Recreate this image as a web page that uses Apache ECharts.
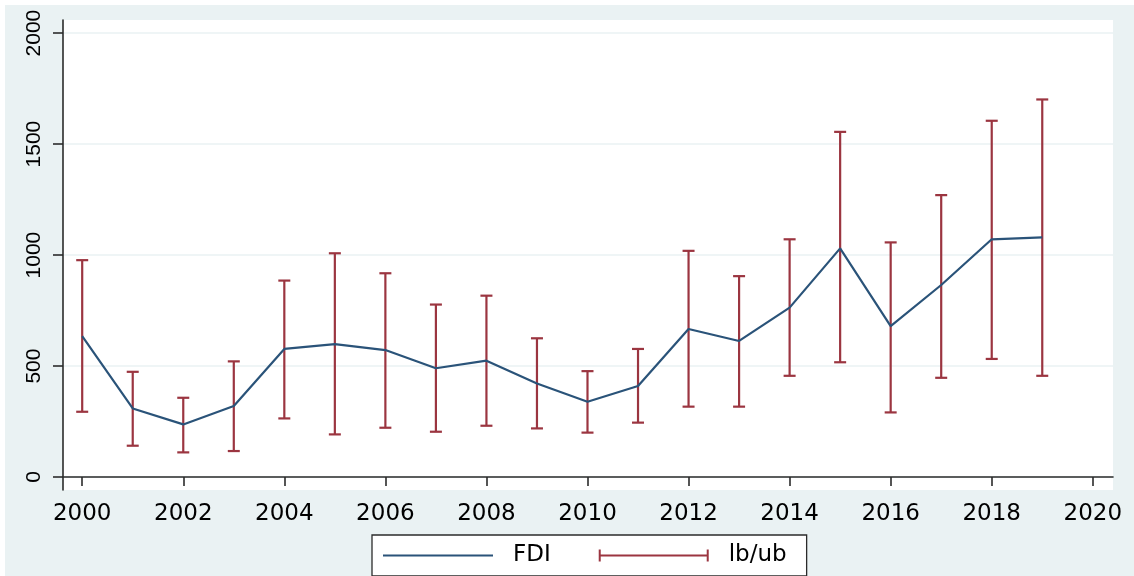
<!DOCTYPE html>
<html>
<head>
<meta charset="utf-8">
<script src="https://cdn.jsdelivr.net/npm/echarts@6/dist/echarts.min.js"></script>
<style>
html,body{margin:0;padding:0;background:#fff;}
#c{width:1134px;height:576px;}
</style>
</head>
<body>
<div id="c"></div>
<script>
const years = [2000,2001,2002,2003,2004,2005,2006,2007,2008,2009,2010,2011,2012,2013,2014,2015,2016,2017,2018,2019];
const fdi   = [635,309,237,320,577,599,572,490,524,421,339,410,667,613,763,1030,680,865,1071,1080];
const ub    = [977,474,357,521,885,1008,918,777,817,625,477,577,1019,905,1071,1555,1057,1270,1605,1701];
const lb    = [294,141,111,117,264,192,222,204,231,219,200,245,317,317,456,517,291,447,532,456];
const xTicks = [2000,2002,2004,2006,2008,2010,2012,2014,2016,2018,2020];
const yTicks = [0,500,1000,1500,2000];

const lineColor = '#2A5379';
const barColor = '#9B3540';
const bg = '#EAF2F3';

const lineData = years.map((y,i)=>[y,fdi[i]]);
const barData = years.map((y,i)=>[y,lb[i],ub[i]]);

const chart = echarts.init(document.getElementById('c'), null, {renderer:'canvas'});
chart.setOption({
  backgroundColor:'#fff',
  animation:false,
  graphic:[{type:'rect', z:-10, silent:true, shape:{x:5,y:5,width:1129,height:571}, style:{fill:bg}}],
  grid:{left:63,right:21,top:20,bottom:86,show:true,backgroundColor:'#fff',borderWidth:0},
  xAxis:{
    type:'value', min:1999.62, max:2020.4,
    axisLine:{show:true,lineStyle:{color:'#2b2b2b',width:1.6}},
    axisTick:{show:true,length:9,customValues:xTicks,lineStyle:{color:'#2b2b2b',width:1.6}},
    axisLabel:{customValues:xTicks,margin:13,fontSize:23,fontFamily:'DejaVu Sans',color:'#000',formatter:v=>String(v)},
    splitLine:{show:false}
  },
  yAxis:{
    type:'value', min:-58.5, max:2059,
    axisLine:{show:true,lineStyle:{color:'#2b2b2b',width:1.6}},
    axisTick:{show:true,length:10,customValues:yTicks,lineStyle:{color:'#2b2b2b',width:1.6}},
    axisLabel:{customValues:yTicks,rotate:90,margin:18,fontSize:21,fontFamily:'Liberation Sans',color:'#000',formatter:v=>String(v)},
    splitLine:{show:true,customValues:yTicks,lineStyle:{color:bg,width:1.5}}
  },
  legend:{
    left:372, top:535,
    orient:'horizontal',
    borderColor:'#2b2b2b', borderWidth:1.3, borderRadius:0,
    backgroundColor:'#fff',
    padding:[9,20,9,11],
    itemWidth:110, itemHeight:12, itemGap:48,
    textStyle:{fontSize:23,fontFamily:'DejaVu Sans',color:'#000',padding:[0,0,0,15]},
    data:[
      {name:'FDI', icon:'path://M0,0h110v2h-110z', itemStyle:{color:lineColor}},
      {name:'lb/ub', icon:'path://M0,0h2v12h-2z M2,5h106v2h-106z M108,0h2v12h-2z', itemStyle:{color:barColor}}
    ]
  },
  series:[
    {
      name:'lb/ub', type:'custom', z:2,
      itemStyle:{color:barColor},
      encode:{x:0,y:[1,2]},
      data:barData,
      renderItem:function(params, api){
        const x = api.value(0), lo = api.value(1), hi = api.value(2);
        const pH = api.coord([x,hi]), pL = api.coord([x,lo]);
        const hw = 6;
        const st = {stroke:barColor,lineWidth:2.2};
        return {type:'group',children:[
          {type:'line',shape:{x1:pH[0],y1:pH[1],x2:pL[0],y2:pL[1]},style:st},
          {type:'line',shape:{x1:pH[0]-hw,y1:pH[1],x2:pH[0]+hw,y2:pH[1]},style:st},
          {type:'line',shape:{x1:pL[0]-hw,y1:pL[1],x2:pL[0]+hw,y2:pL[1]},style:st}
        ]};
      }
    },
    {
      name:'FDI', type:'line', z:3,
      data:lineData, symbol:'none',
      lineStyle:{color:lineColor,width:2.2},
      itemStyle:{color:lineColor}
    }
  ]
});
</script>
</body>
</html>
